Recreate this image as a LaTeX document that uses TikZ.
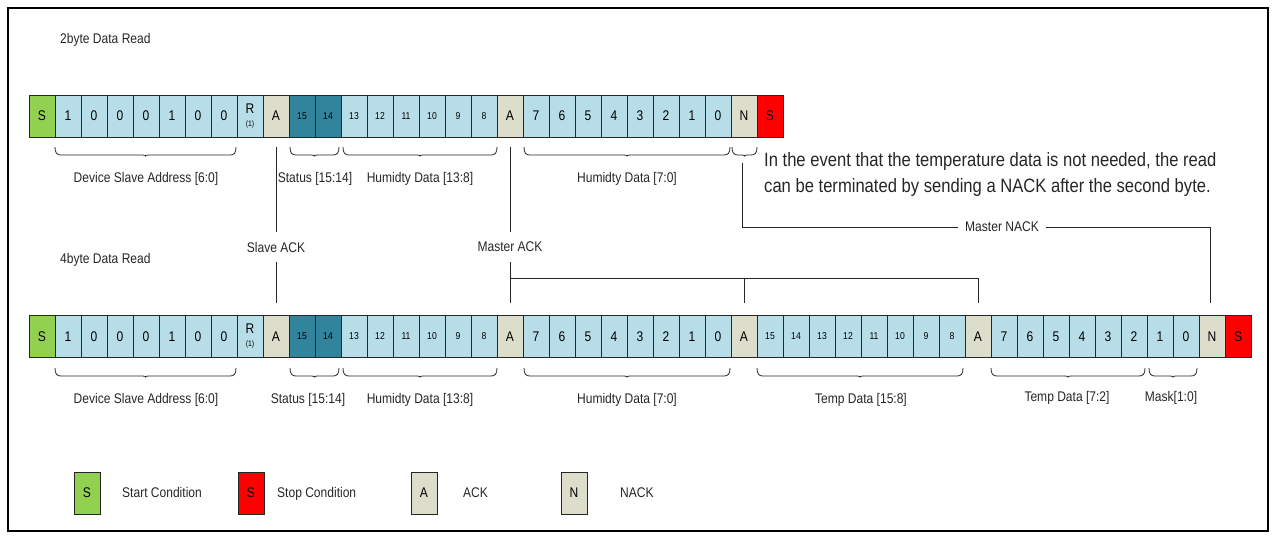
\documentclass[tikz,border=0pt]{standalone}
\usepackage{fontspec}
\setmainfont{Liberation Sans}[FakeStretch=0.86]
\definecolor{cgreen}{HTML}{92D050}
\definecolor{cred}{HTML}{FF0000}
\definecolor{cack}{HTML}{DDDDCB}
\definecolor{cbit}{HTML}{B7DEE8}
\definecolor{cstat}{HTML}{31849B}
\definecolor{cline}{HTML}{262626}
\newcommand{\myR}{R\\[-3pt]{\fontsize{8}{8}\selectfont(1)}}
\newcommand{\mybrace}[3]{%
  \pgfmathsetmacro\xm{(#1+#2)/2}%
  \draw[bracestyle] (#1,#3) .. controls (#1,#3+6) and (#1+2,#3+8) .. (#1+6,#3+8)
    -- (\xm-3,#3+8) .. controls (\xm-1,#3+8) and (\xm,#3+8.5) .. (\xm,#3+9)
    .. controls (\xm,#3+8.5) and (\xm+1,#3+8) .. (\xm+3,#3+8)
    -- (#2-6,#3+8) .. controls (#2-2,#3+8) and (#2,#3+6) .. (#2,#3);}
\begin{document}
\begin{tikzpicture}[x=1pt,y=-1pt,
  cell/.style={draw=cline, line width=0.8pt, minimum width=26pt, minimum height=42pt,
    inner sep=0pt, align=center, font=\fontsize{14}{16}\selectfont},
  startc/.style={fill=cgreen},
  stopc/.style={fill=cred},
  ackc/.style={fill=cack},
  bitc/.style={fill=cbit},
  smallc/.style={fill=cbit, font=\fontsize{10}{12}\selectfont},
  statc/.style={fill=cstat, font=\fontsize{10}{12}\selectfont},
  lbl/.style={inner sep=0pt, font=\fontsize{14}{16}\selectfont, text=cline},
  conn/.style={draw=cline, line width=0.8pt},
  bracestyle/.style={draw=cline, line width=0.8pt},
  gaplbl/.style={inner sep=0pt, minimum height=29pt, font=\fontsize{14}{16}\selectfont, text=cline}
]
\useasboundingbox (0,0) rectangle (1287,539);
\draw[line width=2pt] (8,8) rectangle (1268,531);

% titles
\node[lbl, anchor=west] (title2) at (60,40) {2byte Data Read};
\node[lbl, anchor=west] (title4) at (60,260) {4byte Data Read};

% top row
\foreach \i/\lb/\st in {0/S/startc,1/1/bitc,2/0/bitc,3/0/bitc,4/0/bitc,5/1/bitc,6/0/bitc,7/0/bitc,8/\myR/bitc,9/A/ackc,10/15/statc,11/14/statc,12/13/smallc,13/12/smallc,14/11/smallc,15/10/smallc,16/9/smallc,17/8/smallc,18/A/ackc,19/7/bitc,20/6/bitc,21/5/bitc,22/4/bitc,23/3/bitc,24/2/bitc,25/1/bitc,26/0/bitc,27/N/ackc,28/S/stopc}
  \node[cell,\st] (t\i) at ({42+26*\i},116) {\lb};

% bottom row
\foreach \i/\lb/\st in {0/S/startc,1/1/bitc,2/0/bitc,3/0/bitc,4/0/bitc,5/1/bitc,6/0/bitc,7/0/bitc,8/\myR/bitc,9/A/ackc,10/15/statc,11/14/statc,12/13/smallc,13/12/smallc,14/11/smallc,15/10/smallc,16/9/smallc,17/8/smallc,18/A/ackc,19/7/bitc,20/6/bitc,21/5/bitc,22/4/bitc,23/3/bitc,24/2/bitc,25/1/bitc,26/0/bitc,27/A/ackc,28/15/smallc,29/14/smallc,30/13/smallc,31/12/smallc,32/11/smallc,33/10/smallc,34/9/smallc,35/8/smallc,36/A/ackc,37/7/bitc,38/6/bitc,39/5/bitc,40/4/bitc,41/3/bitc,42/2/bitc,43/1/bitc,44/0/bitc,45/N/ackc,46/S/stopc}
  \node[cell,\st] (b\i) at ({42+26*\i},336.5) {\lb};

% braces top
\mybrace{55}{236}{147}
\mybrace{290}{339}{147}
\mybrace{343}{497}{147}
\mybrace{524}{730}{147}
\mybrace{732}{757}{147}
% braces bottom
\mybrace{55}{236}{368}
\mybrace{290}{339}{368}
\mybrace{343}{497}{368}
\mybrace{524}{730}{368}
\mybrace{757}{963}{368}
\mybrace{991}{1145}{368}
\mybrace{1149}{1197}{368}

% labels top
\node[lbl] (l1) at (146,179) {Device Slave Address [6:0]};
\node[lbl] (l2) at (315,179) {Status [15:14]};
\node[lbl] (l3) at (420,179) {Humidty Data [13:8]};
\node[lbl] (l4) at (627,179) {Humidty Data [7:0]};
% labels bottom
\node[lbl] (m1) at (146,400) {Device Slave Address [6:0]};
\node[lbl] (m2) at (308,400) {Status [15:14]};
\node[lbl] (m3) at (420,400) {Humidty Data [13:8]};
\node[lbl] (m4) at (627,400) {Humidty Data [7:0]};
\node[lbl] (m5) at (861,400) {Temp Data [15:8]};
\node[lbl] (m6) at (1067,398) {Temp Data [7:2]};
\node[lbl] (m7) at (1171,398) {Mask[1:0]};

% note
\node[inner sep=0pt, anchor=base west, font=\fontsize{19.3}{22}\selectfont, text=cline] (noteA) at (764,166) {In the event that the temperature data is not needed, the read};
\node[inner sep=0pt, anchor=base west, font=\fontsize{19.3}{22}\selectfont, text=cline] (noteB) at (764,192) {can be terminated by sending a NACK after the second byte.};

% connector labels
\node[gaplbl] (sack) at (276,247) {Slave ACK};
\node[gaplbl] (mack) at (510,247) {Master ACK};
\node[lbl, inner xsep=7pt] (mnack) at (1002,227) {Master NACK};
\coordinate (mj) at (510,278);

% connectors
\draw[conn] ([yshift=-10pt]t9.south) -- (sack.north);
\draw[conn] (sack.south) -- ([yshift=12pt]b9.north);
\draw[conn] ([yshift=-10pt]t18.south) -- (mack.north);
\draw[conn] (mack.south) -- ([yshift=12pt]b18.north);
\draw[conn] (mj) -| ([yshift=12pt]b36.north);
\draw[conn] (b27.north |- mj) -- ([yshift=12pt]b27.north);
\draw[conn] ([xshift=-2pt,yshift=-26pt]t27.south) |- (mnack.west);
\draw[conn] (mnack.east) -| ([xshift=-2pt,yshift=12pt]b45.north);

% legend
\node[cell,startc] (lgS) at (87,493) {S};
\node[cell,stopc] (lgP) at (251,493) {S};
\node[cell,ackc] (lgA) at (424,493) {A};
\node[cell,ackc] (lgN) at (574,493) {N};
\node[lbl, anchor=base west] (lgSt) at (122,497) {Start Condition};
\node[lbl, anchor=base west] (lgPt) at (277,497) {Stop Condition};
\node[lbl, anchor=base west] (lgAt) at (463,497) {ACK};
\node[lbl, anchor=base west] (lgNt) at (620,497) {NACK};
\end{tikzpicture}
\end{document}
